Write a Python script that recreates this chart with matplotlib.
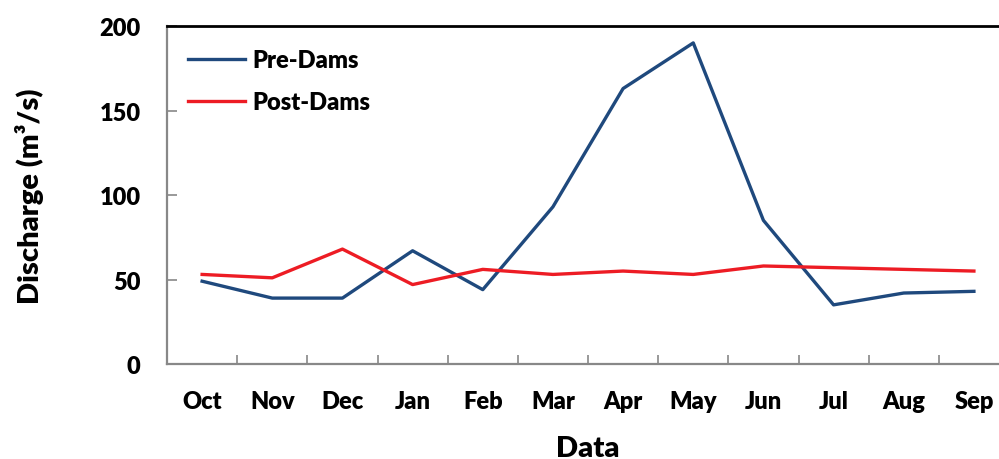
import numpy as np
import matplotlib.pyplot as plt

# monthly discharge (m3/s)
months = ['Oct', 'Nov', 'Dec', 'Jan', 'Feb', 'Mar', 'Apr', 'May', 'Jun', 'Jul', 'Aug', 'Sep']
pre_dams = [49, 39, 39, 67, 44, 93, 163, 190, 85, 35, 42, 43]
post_dams = [53, 51, 68, 47, 56, 53, 55, 53, 58, 57, 56, 55]

plt.rcParams['font.family'] = ['Lato', 'DejaVu Sans']
plt.rcParams['font.weight'] = 'heavy'

fig = plt.figure(figsize=(9.99, 4.6), dpi=100)
ax = fig.add_axes([0.1672, 0.2065, 0.8428, 0.7348])

x = np.arange(len(months))
ax.plot(x, pre_dams, color='#1f497d', lw=2.4, label='Pre-Dams')
ax.plot(x, post_dams, color='#ed1c24', lw=2.4, label='Post-Dams')

ax.set_xlim(-0.5, len(months) - 0.5)
ax.set_ylim(0, 200)
ax.set_yticks([0, 50, 100, 150, 200])
ax.set_xticks(x)
ax.set_xticklabels(months)
ax.set_xticks(np.arange(0.5, len(months) - 0.5, 1), minor=True)

ax.tick_params(axis='x', which='major', length=0, pad=19, labelsize=17)
ax.tick_params(axis='x', which='minor', direction='in', length=6.5, width=1.2, color='#888888')
ax.tick_params(axis='y', direction='in', length=7, width=1.2, color='#888888', pad=19, labelsize=17)
for lab in ax.get_xticklabels() + ax.get_yticklabels():
    lab.set_fontweight('heavy')

for s in ['left', 'bottom']:
    ax.spines[s].set_color('#888888')
    ax.spines[s].set_linewidth(1.6)
ax.spines['top'].set_color('black')
ax.spines['top'].set_linewidth(2)
ax.spines['right'].set_visible(False)

ax.set_ylabel('Discharge (m³/s)', fontsize=21, fontweight='heavy', labelpad=40)
ax.set_xlabel('Data', fontsize=21, fontweight='heavy', labelpad=16)

ax.legend(loc='upper left', bbox_to_anchor=(0.0, 0.995), frameon=False,
          prop={'size': 17, 'weight': 'heavy'},
          handlelength=2.4, handletextpad=0.3, labelspacing=0.85)

fig.savefig('out.png', dpi=100)
